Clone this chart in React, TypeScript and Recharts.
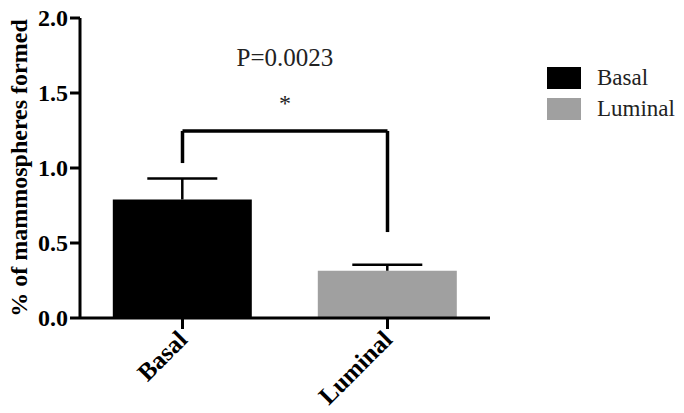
import React from 'react';
import { BarChart, Bar, XAxis, YAxis, Cell, ReferenceLine, Legend, Label } from 'recharts';

const categories = ['Basal', 'Luminal'];
const means = [0.79, 0.315];
const errors = [0.14, 0.04];
const colors = ['#000000', '#a0a0a0'];
const yTicks = [0, 0.5, 1.0, 1.5, 2.0];
const bracket = { left: 1.033, top: 1.247, right: 0.573 };
const pValueText = 'P=0.0023';
const starText = '*';

const data = categories.map((name, i) => ({ name, value: means[i], err: errors[i] }));

const FONT = '"Liberation Serif", "Times New Roman", serif';

const BarWithErr = (props: any) => {
  const { x, y, width, height, fill, payload } = props;
  const pxPerUnit = height / payload.value;
  const errTop = y - payload.err * pxPerUnit;
  const cx = x + width / 2;
  return (
    <g>
      <rect x={x} y={y} width={width} height={height} fill={fill} />
      <line x1={cx} y1={y} x2={cx} y2={errTop} stroke="#000" strokeWidth={2.5} />
      <line x1={cx - 35} x2={cx + 35} y1={errTop} y2={errTop} stroke="#000" strokeWidth={2.5} />
    </g>
  );
};

const XTick = (props: any) => {
  const { x, y, payload } = props;
  const ax = x;
  const ay = y + 4;
  return (
    <text
      x={ax}
      y={ay}
      transform={`rotate(-45 ${ax} ${ay})`}
      textAnchor="end"
      dy="0.35em"
      fontFamily={FONT}
      fontWeight="bold"
      fontSize={25}
      fill="#000"
    >
      {payload.value}
    </text>
  );
};

const YTick = (props: any) => {
  const { x, y, payload } = props;
  return (
    <text x={x} y={y} textAnchor="end" dy="0.35em" fontFamily={FONT} fontWeight="bold" fontSize={24} fill="#000">
      {Number(payload.value).toFixed(1)}
    </text>
  );
};

const LegendContent = () => (
  <div style={{ fontFamily: FONT, fontSize: 23, color: '#222' }}>
    {categories.map((c, i) => (
      <div key={c} style={{ display: 'flex', alignItems: 'center', height: 31 }}>
        <div style={{ width: 34, height: 22, background: colors[i], marginRight: 16 }} />
        <span>{c}</span>
      </div>
    ))}
  </div>
);

export default function App() {
  return (
    <div style={{ position: 'absolute', left: 0, top: 0, background: '#fff' }}>
      <BarChart
        width={684}
        height={413}
        data={data}
        margin={{ top: 18, right: 194, bottom: 0, left: 0 }}
        barCategoryGap="16%"
      >
        <XAxis
          dataKey="name"
          height={95}
          axisLine={{ stroke: '#000', strokeWidth: 3 }}
          tickLine={{ stroke: '#000', strokeWidth: 3 }}
          tickSize={11}
          tick={<XTick />}
          interval={0}
        />
        <YAxis
          width={80}
          domain={[0, 2]}
          ticks={yTicks}
          axisLine={{ stroke: '#000', strokeWidth: 3 }}
          tickLine={{ stroke: '#000', strokeWidth: 3 }}
          tickSize={10}
          tickMargin={2}
          tick={<YTick />}
        >
          <Label
            value="% of mammospheres formed"
            angle={-90}
            position="insideLeft"
            offset={18}
            style={{ textAnchor: 'middle', fontFamily: FONT, fontWeight: 'bold', fontSize: 24, fill: '#000' }}
          />
        </YAxis>
        <Bar dataKey="value" isAnimationActive={false} shape={<BarWithErr />}>
          {data.map((d, i) => (
            <Cell key={d.name} fill={colors[i]} />
          ))}
        </Bar>
        <ReferenceLine
          segment={[{ x: categories[0], y: bracket.left }, { x: categories[0], y: bracket.top }]}
          stroke="#000"
          strokeWidth={3.5}
          ifOverflow="visible"
        />
        <ReferenceLine
          segment={[{ x: categories[0], y: bracket.top }, { x: categories[1], y: bracket.top }]}
          stroke="#000"
          strokeWidth={3.5}
          ifOverflow="visible"
        >
          <Label value={starText} position="top" offset={20} style={{ fontFamily: FONT, fontSize: 24, fill: '#222' }} />
        </ReferenceLine>
        <ReferenceLine
          segment={[{ x: categories[0], y: bracket.top }, { x: categories[1], y: bracket.top }]}
          stroke="none"
          ifOverflow="visible"
        >
          <Label value={pValueText} position="top" offset={65} style={{ fontFamily: FONT, fontSize: 25, fill: '#222' }} />
        </ReferenceLine>
        <ReferenceLine
          segment={[{ x: categories[1], y: bracket.top }, { x: categories[1], y: bracket.right }]}
          stroke="#000"
          strokeWidth={3.5}
          ifOverflow="visible"
        />
        <Legend
          layout="vertical"
          align="center"
          verticalAlign="middle"
          content={<LegendContent />}
          wrapperStyle={{ left: 547, top: 62, width: 140 }}
        />
      </BarChart>
    </div>
  );
}
